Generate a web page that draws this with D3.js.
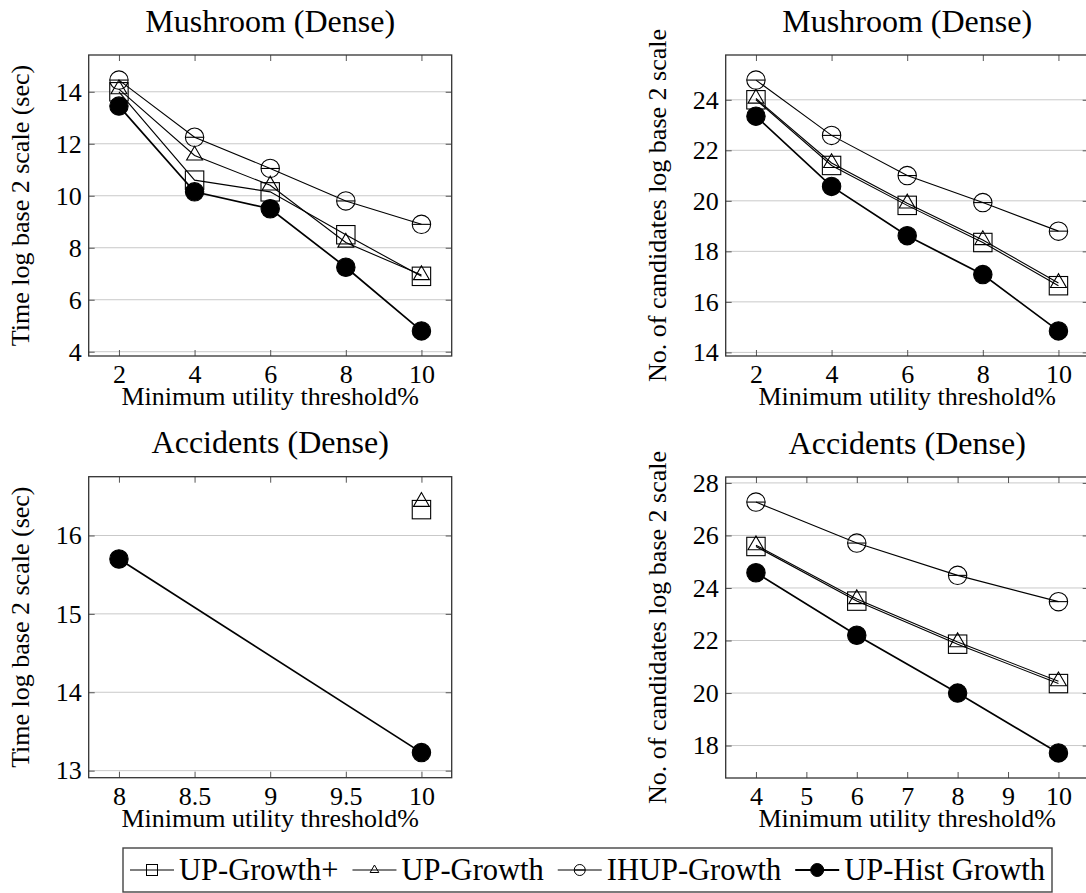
<!DOCTYPE html>
<html>
<head>
<meta charset="utf-8">
<script src="https://cdn.jsdelivr.net/npm/d3@7/dist/d3.min.js"></script>
<style>
  html, body { margin: 0; padding: 0; background: #fff; }
  svg { display: block; }
  text { font-family: "Liberation Serif", "Times New Roman", serif; fill: #000; }
</style>
</head>
<body>
<svg id="chart" width="1086" height="893"></svg>
<script>
// Series names (legend order)
const seriesNames = ["UP-Growth+", "UP-Growth", "IHUP-Growth", "UP-Hist Growth"];

// Mushroom (Dense) — time, log2 seconds
const mushX = [2, 4, 6, 8, 10];
const mushTimeUPGrowthPlus = [14.0, 10.6, 10.15, 8.5, 6.9];
const mushTimeUPGrowth     = [14.1, 11.55, 10.4, 8.2, 6.95];
const mushTimeIHUP         = [14.45, 12.25, 11.05, 9.8, 8.9];
const mushTimeUPHist       = [13.45, 10.15, 9.5, 7.25, 4.8];
const mushTimeYTicks = [4, 6, 8, 10, 12, 14];
const mushXTicks = [2, 4, 6, 8, 10];

// Mushroom (Dense) — candidates, log2 count
const mushCandUPGrowthPlus = [24.0, 21.4, 19.82, 18.35, 16.64];
const mushCandUPGrowth     = [24.05, 21.5, 19.9, 18.45, 16.75];
const mushCandIHUP         = [24.78, 22.59, 21.0, 19.93, 18.8];
const mushCandUPHist       = [23.35, 20.57, 18.62, 17.08, 14.85];
const mushCandYTicks = [14, 16, 18, 20, 22, 24];

// Accidents (Dense) — time, log2 seconds (missing runs are null)
const accTimeX = [8, 10];
const accTimeUPGrowthPlus = [null, 16.33];
const accTimeUPGrowth     = [null, 16.43];
const accTimeIHUP         = [null, null];
const accTimeUPHist       = [15.7, 13.23];
const accTimeYTicks = [13, 14, 15, 16];
const accTimeXTicks = [8, 8.5, 9, 9.5, 10];

// Accidents (Dense) — candidates, log2 count
const accCandX = [4, 6, 8, 10];
const accCandUPGrowthPlus = [25.58, 23.5, 21.86, 20.36];
const accCandUPGrowth     = [25.63, 23.58, 21.94, 20.45];
const accCandIHUP         = [27.27, 25.71, 24.48, 23.48];
const accCandUPHist       = [24.58, 22.2, 20.0, 17.72];
const accCandYTicks = [18, 20, 22, 24, 26, 28];
const accCandXTicks = [4, 5, 6, 7, 8, 9, 10];

const FONT = '"Liberation Serif", "Times New Roman", serif';
const svg = d3.select("#chart");

const PW = 363, PH = 301;
const MS = 9.2; // mark size

const panels = [
  { title: "Mushroom (Dense)", ylabel: "Time log base 2 scale (sec)", left: 88.7, top: 55,
    x: mushX, xTicks: mushXTicks, yTicks: mushTimeYTicks,
    series: [mushTimeUPGrowthPlus, mushTimeUPGrowth, mushTimeIHUP, mushTimeUPHist] },
  { title: "Mushroom (Dense)", ylabel: "No. of candidates log base 2 scale", left: 725.7, top: 55,
    x: mushX, xTicks: mushXTicks, yTicks: mushCandYTicks,
    series: [mushCandUPGrowthPlus, mushCandUPGrowth, mushCandIHUP, mushCandUPHist] },
  { title: "Accidents (Dense)", ylabel: "Time log base 2 scale (sec)", left: 88.7, top: 476.7,
    x: accTimeX, xTicks: accTimeXTicks, yTicks: accTimeYTicks,
    series: [accTimeUPGrowthPlus, accTimeUPGrowth, accTimeIHUP, accTimeUPHist] },
  { title: "Accidents (Dense)", ylabel: "No. of candidates log base 2 scale", left: 725.7, top: 477,
    x: accCandX, xTicks: accCandXTicks, yTicks: accCandYTicks,
    series: [accCandUPGrowthPlus, accCandUPGrowth, accCandIHUP, accCandUPHist] }
];

// 10% padding around the data extent on both axes
function padded(ext) {
  const r = ext[1] - ext[0];
  return [ext[0] - 0.1 * r, ext[1] + 0.1 * r];
}

function drawMark(g, kind, cx, cy, s, sw) {
  if (kind === 0) {
    g.append("rect").attr("x", cx - s).attr("y", cy - s).attr("width", 2 * s).attr("height", 2 * s)
      .attr("fill", "none").attr("stroke", "#000").attr("stroke-width", sw);
  } else if (kind === 1) {
    const pts = [90, 210, 330].map(a => {
      const t = a * Math.PI / 180;
      return [cx + s * Math.cos(t), cy - s * Math.sin(t)];
    });
    g.append("path").attr("d", "M" + pts.map(p => p.join(",")).join("L") + "Z")
      .attr("fill", "none").attr("stroke", "#000").attr("stroke-width", sw);
  } else if (kind === 2) {
    g.append("circle").attr("cx", cx).attr("cy", cy).attr("r", s)
      .attr("fill", "none").attr("stroke", "#000").attr("stroke-width", sw);
    g.append("line").attr("x1", cx - s).attr("x2", cx + s).attr("y1", cy).attr("y2", cy)
      .attr("stroke", "#000").attr("stroke-width", sw);
  } else {
    g.append("circle").attr("cx", cx).attr("cy", cy).attr("r", s)
      .attr("fill", "#000").attr("stroke", "#000").attr("stroke-width", sw);
  }
}

const fmt = d3.format("~g");

panels.forEach(p => {
  const allY = p.series.flat().filter(v => v != null);
  const usedX = p.x.filter((xv, i) => p.series.some(s => s[i] != null));
  const x = d3.scaleLinear().domain(padded(d3.extent(usedX))).range([0, PW]);
  const y = d3.scaleLinear().domain(padded(d3.extent(allY))).range([PH, 0]);

  const g = svg.append("g").attr("transform", `translate(${p.left},${p.top})`);

  // horizontal grid
  g.append("g").selectAll("line").data(p.yTicks).join("line")
    .attr("x1", 0).attr("x2", PW).attr("y1", d => y(d)).attr("y2", d => y(d))
    .attr("stroke", "#c9c9c9").attr("stroke-width", 1);

  // axes with inward ticks on all four sides
  const styleAxis = a => {
    a.attr("font-family", FONT).attr("font-size", 26);
    a.select(".domain").remove();
    a.selectAll(".tick line").attr("stroke", "#555").attr("stroke-width", 1);
    a.selectAll(".tick text").attr("fill", "#000")
      .style("font-family", FONT).style("font-size", "26px");
  };
  g.append("g").call(d3.axisLeft(y).tickValues(p.yTicks).tickSize(-6).tickPadding(7).tickFormat(fmt)).call(styleAxis);
  g.append("g").attr("transform", `translate(${PW},0)`)
    .call(d3.axisRight(y).tickValues(p.yTicks).tickSize(-6).tickFormat("")).call(styleAxis);
  g.append("g").attr("transform", `translate(0,${PH})`)
    .call(d3.axisBottom(x).tickValues(p.xTicks).tickSize(-6).tickPadding(9).tickFormat(fmt)).call(styleAxis);
  g.append("g")
    .call(d3.axisTop(x).tickValues(p.xTicks).tickSize(-6).tickFormat("")).call(styleAxis);

  // frame
  g.append("rect").attr("x", 0).attr("y", 0).attr("width", PW).attr("height", PH)
    .attr("fill", "none").attr("stroke", "#333").attr("stroke-width", 1.3);

  // series lines and marks
  p.series.forEach((vals, k) => {
    const pts = p.x.map((xv, i) => [xv, vals[i]]).filter(d => d[1] != null);
    const sw = k === 3 ? 1.7 : 1.1;
    if (pts.length > 1) {
      g.append("path").datum(pts)
        .attr("d", d3.line().x(d => x(d[0])).y(d => y(d[1])))
        .attr("fill", "none").attr("stroke", "#000").attr("stroke-width", sw);
    }
    const mg = g.append("g");
    pts.forEach(d => drawMark(mg, k, x(d[0]), y(d[1]), MS, 1.1));
  });

  // title and axis labels
  g.append("text").attr("x", PW / 2).attr("y", -23.3).attr("text-anchor", "middle")
    .style("font-size", "32px").text(p.title);
  g.append("text").attr("x", PW / 2).attr("y", PH + 49).attr("text-anchor", "middle")
    .style("font-size", "26px").text("Minimum utility threshold%");
  g.append("text").attr("transform", `translate(-59.7,${PH / 2}) rotate(-90)`).attr("text-anchor", "middle")
    .style("font-size", "26px").text(p.ylabel);
});

// legend
const LX0 = 123, LX1 = 1052, LY0 = 848, LY1 = 892;
const lg = svg.append("g");
lg.append("rect").attr("x", LX0).attr("y", LY0).attr("width", LX1 - LX0).attr("height", LY1 - LY0)
  .attr("fill", "#fff").attr("stroke", "#444").attr("stroke-width", 1.4);
const LFS = 30.5, IMG = 44, GAP_IT = 5, PAD = 7;
const ly = (LY0 + LY1) / 2;
const texts = seriesNames.map(n => lg.append("text").style("font-size", LFS + "px").attr("y", ly + 10).text(n));
const widths = texts.map(t => t.node().getComputedTextLength());
const inner = (LX1 - LX0) - 2 * PAD;
const used = d3.sum(widths) + seriesNames.length * (IMG + GAP_IT);
const gapBetween = (inner - used) / (seriesNames.length - 1);
let cx = LX0 + PAD;
const legendMarkSize = [5.5, 5, 5.5, 6.5];
seriesNames.forEach((n, k) => {
  lg.append("line").attr("x1", cx).attr("x2", cx + IMG).attr("y1", ly).attr("y2", ly)
    .attr("stroke", "#000").attr("stroke-width", k === 3 ? 1.9 : 1.1);
  drawMark(lg, k, cx + IMG / 2, ly, legendMarkSize[k], 1.0);
  texts[k].attr("x", cx + IMG + GAP_IT);
  cx += IMG + GAP_IT + widths[k] + gapBetween;
});
</script>
</body>
</html>
